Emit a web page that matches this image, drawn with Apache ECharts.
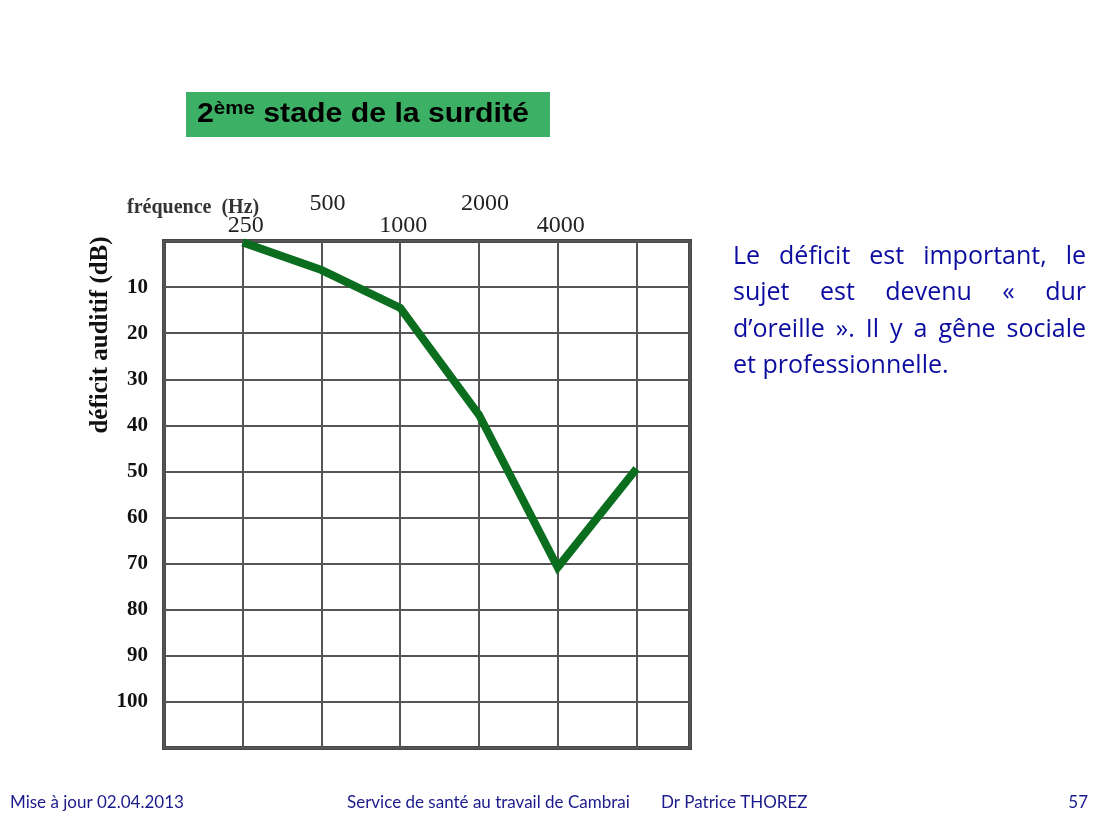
<!DOCTYPE html>
<html>
<head>
<meta charset="utf-8">
<script src="https://cdn.jsdelivr.net/npm/echarts@6/dist/echarts.min.js"></script>
<style>
  html, body { margin: 0; padding: 0; background: #fff; }
  #chart { width: 1100px; height: 825px; }
</style>
</head>
<body>
<div id="chart"></div>
<script>
// ---- data ----
const freqLabels = ['250', '500', '1000', '2000', '4000'];   // labelled columns
const freqIndex  = [0, 1, 2, 3, 4, 5];                        // column index (250 ... 8000 Hz)
const lossDb     = [0.3, 6.3, 14.5, 37.7, 70.8, 49.4];        // hearing loss (dB)
const titleMain = '2';
const titleSup = 'ème';
const titleRest = ' stade de la surdité';
const yAxisName = 'déficit auditif (dB)';
const xAxisName = 'fréquence  (Hz)';
const paragraphLines = [
  'Le déficit est important, le',
  'sujet est devenu « dur',
  'd’oreille ». Il y a gêne sociale',
  'et professionnelle.'
];
const footerLeft = 'Mise à jour 02.04.2013';
const footerMid = 'Service de santé au travail de Cambrai';
const footerRight = 'Dr Patrice THOREZ';
const pageNum = '57';

// ---- layout helpers ----
const measureCtx = document.createElement('canvas').getContext('2d');
function textWidth(str, font) { measureCtx.font = font; return measureCtx.measureText(str).width; }

const paraFont = '25px "Open Sans"';
const paraColor = '#0c0ca0';
const paraLeft = 733, paraRight = 1086, paraTop0 = 244, paraLineH = 36.5;
const paraGraphics = [];
paragraphLines.forEach((line, li) => {
  const words = line.split(' ');
  const top = paraTop0 + li * paraLineH;
  const last = li === paragraphLines.length - 1;
  if (last) {
    paraGraphics.push({ type: 'text', x: paraLeft, y: top, style: { text: line, font: paraFont, fill: paraColor } });
    return;
  }
  const widths = words.map(w => textWidth(w, paraFont));
  const total = widths.reduce((a, b) => a + b, 0);
  const gap = (paraRight - paraLeft - total) / (words.length - 1);
  let x = paraLeft;
  words.forEach((w, wi) => {
    paraGraphics.push({ type: 'text', x: x, y: top, style: { text: w, font: paraFont, fill: paraColor } });
    x += widths[wi] + gap;
  });
});

const footerFont = '17px Lato';
const footerColor = '#1a1a8c';

const chart = echarts.init(document.getElementById('chart'), null, { renderer: 'canvas' });

const option = {
  animation: false,
  backgroundColor: '#ffffff',
  grid: {
    left: 164, top: 241, width: 526, height: 507,
    show: true, borderColor: '#474747', borderWidth: 4, backgroundColor: 'transparent'
  },
  xAxis: [
    {
      type: 'value', position: 'top', min: -1, max: 5.68, interval: 1,
      axisLine: { show: false }, axisTick: { show: false },
      splitLine: { show: true, lineStyle: { color: '#555', width: 2 } },
      axisLabel: {
        margin: 3, fontFamily: 'Liberation Serif', fontSize: 24, color: '#222',
        padding: [0, 0, 0, 6],
        showMinLabel: true, showMaxLabel: true,
        formatter: v => (Number.isInteger(v) && v >= 0 && v % 2 === 0 && freqLabels[v]) ? freqLabels[v] : ''
      }
    },
    {
      type: 'value', position: 'top', min: -1, max: 5.68, interval: 1,
      axisLine: { show: false }, axisTick: { show: false }, splitLine: { show: false },
      axisLabel: {
        margin: 25, fontFamily: 'Liberation Serif', fontSize: 24, color: '#222',
        padding: [0, 0, 0, 12],
        showMinLabel: true, showMaxLabel: true,
        formatter: v => (Number.isInteger(v) && v >= 0 && v % 2 === 1 && freqLabels[v]) ? freqLabels[v] : ''
      }
    }
  ],
  yAxis: {
    type: 'value', inverse: true, min: 0, max: 110, interval: 10,
    axisLine: { show: false }, axisTick: { show: false },
    splitLine: { show: true, lineStyle: { color: '#555', width: 2 } },
    axisLabel: {
      margin: 16, fontFamily: 'Liberation Serif', fontWeight: 'bold', fontSize: 21, color: '#111',
      formatter: v => (v > 0 && v <= 100) ? String(v) : ''
    }
  },
  series: [{
    type: 'line', xAxisIndex: 0, yAxisIndex: 0,
    data: freqIndex.map((x, i) => [x, lossDb[i]]),
    symbol: 'none', smooth: false,
    lineStyle: { color: '#0b6e1f', width: 8, join: 'miter' }
  }],
  graphic: [
    { type: 'rect', shape: { x: 186, y: 92, width: 364, height: 45 }, style: { fill: '#3cb064' } },
    {
      type: 'text', x: 197, y: 114, scaleX: 1.08,
      style: {
        text: '{a|' + titleMain + '}{s|' + titleSup + '}{a|' + titleRest + '}',
        verticalAlign: 'middle',
        rich: {
          a: { font: 'bold 28px "Liberation Sans"', fill: '#000', lineHeight: 30 },
          s: { font: 'bold 19px "Liberation Sans"', fill: '#000', verticalAlign: 'top', lineHeight: 30 }
        }
      }
    },
    {
      type: 'text', x: 101, y: 335, rotation: Math.PI / 2,
      style: { text: yAxisName, font: 'bold 25px "Liberation Serif"', fill: '#111', align: 'center', verticalAlign: 'middle' }
    },
    {
      type: 'text', x: 127, y: 208,
      style: { text: xAxisName, font: 'bold 20px "Liberation Serif"', fill: '#333', verticalAlign: 'middle' }
    },
    ...paraGraphics,
    { type: 'text', x: 10, y: 803, style: { text: footerLeft, font: footerFont, fill: footerColor, verticalAlign: 'middle' } },
    { type: 'text', x: 347, y: 803, style: { text: footerMid, font: footerFont, fill: footerColor, verticalAlign: 'middle' } },
    { type: 'text', x: 661, y: 803, style: { text: footerRight, font: footerFont, fill: footerColor, verticalAlign: 'middle' } },
    { type: 'text', x: 1088, y: 803, style: { text: pageNum, font: footerFont, fill: footerColor, align: 'right', verticalAlign: 'middle' } }
  ]
};
chart.setOption(option);
</script>
</body>
</html>
